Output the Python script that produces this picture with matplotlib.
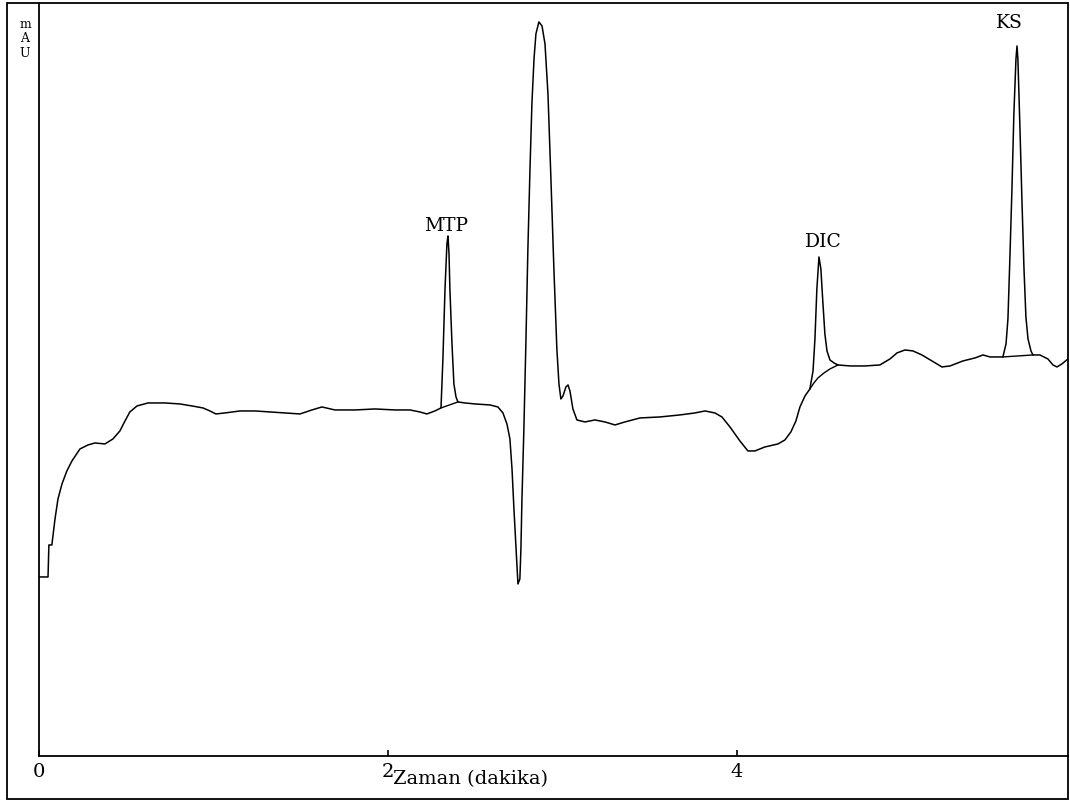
import matplotlib
matplotlib.use("Agg")
import matplotlib.pyplot as plt
from matplotlib.patches import Rectangle

plt.rcParams["font.family"] = "DejaVu Serif"

# chromatogram trace (time in min, signal in mAU, arbitrary offset)
time_min = [
    0.000, 0.052, 0.057, 0.074, 0.092, 0.109, 0.132, 0.160, 0.189, 0.235,
    0.281, 0.321, 0.378, 0.424, 0.464, 0.493, 0.521, 0.562, 0.625, 0.722,
    0.808, 0.877, 0.940, 0.980, 1.014, 1.066, 1.152, 1.238, 1.324, 1.410,
    1.496, 1.564, 1.622, 1.696, 1.811, 1.926, 2.040, 2.126, 2.183, 2.223,
    2.269, 2.304, 2.315, 2.327, 2.338, 2.344, 2.350, 2.355, 2.367, 2.378,
    2.390, 2.401, 2.441, 2.499, 2.585, 2.630, 2.659, 2.682, 2.699, 2.711,
    2.722, 2.734, 2.745, 2.756, 2.762, 2.768, 2.779, 2.791, 2.802, 2.814,
    2.825, 2.837, 2.848, 2.865, 2.883, 2.900, 2.917, 2.934, 2.951, 2.968,
    2.980, 2.991, 3.003, 3.020, 3.032, 3.043, 3.060, 3.083, 3.129, 3.186,
    3.244, 3.301, 3.358, 3.444, 3.559, 3.673, 3.759, 3.817, 3.874, 3.914,
    3.960, 4.017, 4.063, 4.103, 4.160, 4.235, 4.275, 4.309, 4.338, 4.361,
    4.390, 4.418, 4.436, 4.447, 4.458, 4.470, 4.481, 4.493, 4.504, 4.516,
    4.533, 4.556, 4.579, 4.648, 4.734, 4.819, 4.877, 4.917, 4.963, 5.009,
    5.060, 5.117, 5.175, 5.221, 5.295, 5.364, 5.410, 5.450, 5.524, 5.542,
    5.553, 5.564, 5.576, 5.587, 5.599, 5.605, 5.610, 5.622, 5.633, 5.645,
    5.656, 5.668, 5.685, 5.696, 5.736, 5.782, 5.811, 5.834, 5.862, 5.897,
]
signal_mau = [
    17.9, 17.9, 21.1, 21.1, 23.7, 25.7, 27.2, 28.5, 29.5, 30.7,
    31.1, 31.3, 31.2, 31.7, 32.5, 33.5, 34.4, 35.0, 35.3, 35.3,
    35.2, 35.0, 34.8, 34.5, 34.2, 34.3, 34.5, 34.5, 34.4, 34.3,
    34.2, 34.6, 34.9, 34.6, 34.6, 34.7, 34.6, 34.6, 34.4, 34.2,
    34.5, 34.8, 39.7, 46.7, 51.2, 52.0, 50.2, 46.7, 41.2, 37.2,
    35.9, 35.4, 35.3, 35.2, 35.1, 34.9, 34.3, 33.2, 31.7, 28.7,
    24.7, 20.7, 17.2, 17.7, 20.7, 25.7, 32.7, 41.7, 50.7, 58.7,
    65.2, 69.7, 72.2, 73.4, 73.0, 71.2, 66.2, 57.7, 48.7, 40.7,
    37.2, 35.7, 36.0, 36.9, 37.1, 36.5, 34.7, 33.6, 33.4, 33.6,
    33.4, 33.1, 33.4, 33.8, 33.9, 34.1, 34.3, 34.5, 34.3, 33.9,
    32.9, 31.5, 30.5, 30.5, 30.9, 31.2, 31.6, 32.4, 33.5, 34.9,
    36.0, 36.7, 38.5, 41.7, 46.7, 49.9, 48.7, 45.2, 42.2, 40.5,
    39.6, 39.3, 39.1, 39.0, 39.0, 39.1, 39.7, 40.3, 40.6, 40.5,
    40.1, 39.5, 38.9, 39.0, 39.5, 39.8, 40.1, 39.9, 39.9, 41.2,
    43.7, 49.7, 56.7, 64.2, 69.7, 71.0, 69.7, 62.7, 55.7, 48.7,
    43.9, 41.7, 40.5, 40.1, 40.1, 39.7, 39.1, 38.9, 39.2, 39.7,
]

# integration baselines drawn under the labelled peaks
mtp_base_t = [2.304, 2.401]
mtp_base_y = [34.8, 35.4]
dic_base_t = [4.418, 4.441, 4.464, 4.499, 4.533, 4.579]
dic_base_y = [36.7, 37.3, 37.8, 38.3, 38.7, 39.1]
ks_base_t = [5.524, 5.696]
ks_base_y = [39.9, 40.1]

# peak labels
peak_names = ["MTP", "DIC", "KS"]
peak_label_t = [2.332, 4.493, 5.564]
peak_label_y = [52.2, 50.6, 72.5]

x_ticks = [0, 2, 4]

fig = plt.figure(figsize=(10.7, 8.04), dpi=100)
ax = fig.add_axes([0.0364, 0.0585, 0.9617, 0.9366])

ax.plot(time_min, signal_mau, color="black", lw=1.1)
ax.plot(mtp_base_t, mtp_base_y, color="black", lw=1.0)
ax.plot(dic_base_t, dic_base_y, color="black", lw=1.0)
ax.plot(ks_base_t, ks_base_y, color="black", lw=1.0)

for name, t, y in zip(peak_names, peak_label_t, peak_label_y):
    ax.text(t, y, name, ha="center", va="bottom", fontsize=13.5)

ax.set_xlim(0, 5.897)
ax.set_ylim(0, 75.3)
ax.set_xticks(x_ticks)
ax.set_xticklabels([str(v) for v in x_ticks], fontsize=14)
ax.tick_params(axis="x", direction="in", length=4, width=1.2, pad=4)
ax.set_yticks([])
for side in ["top", "right"]:
    ax.spines[side].set_visible(False)
for side in ["left", "bottom"]:
    ax.spines[side].set_linewidth(1.3)

ax.set_xlabel("Zaman (dakika)", fontsize=14)
ax.xaxis.set_label_coords(0.419, -0.029)
ax.xaxis.label.set_va("center")

fig.text(25 / 1070, 1 - 18 / 804, "m\nA\nU", ha="center", va="top",
         fontsize=9, linespacing=1.15)

# outer frame round the whole plot
fig.patches.append(Rectangle((7 / 1070, 4 / 804), 1061 / 1070, 796 / 804,
                             transform=fig.transFigure, fill=False,
                             lw=1.3, color="black"))

fig.savefig("out.png", dpi=100)
